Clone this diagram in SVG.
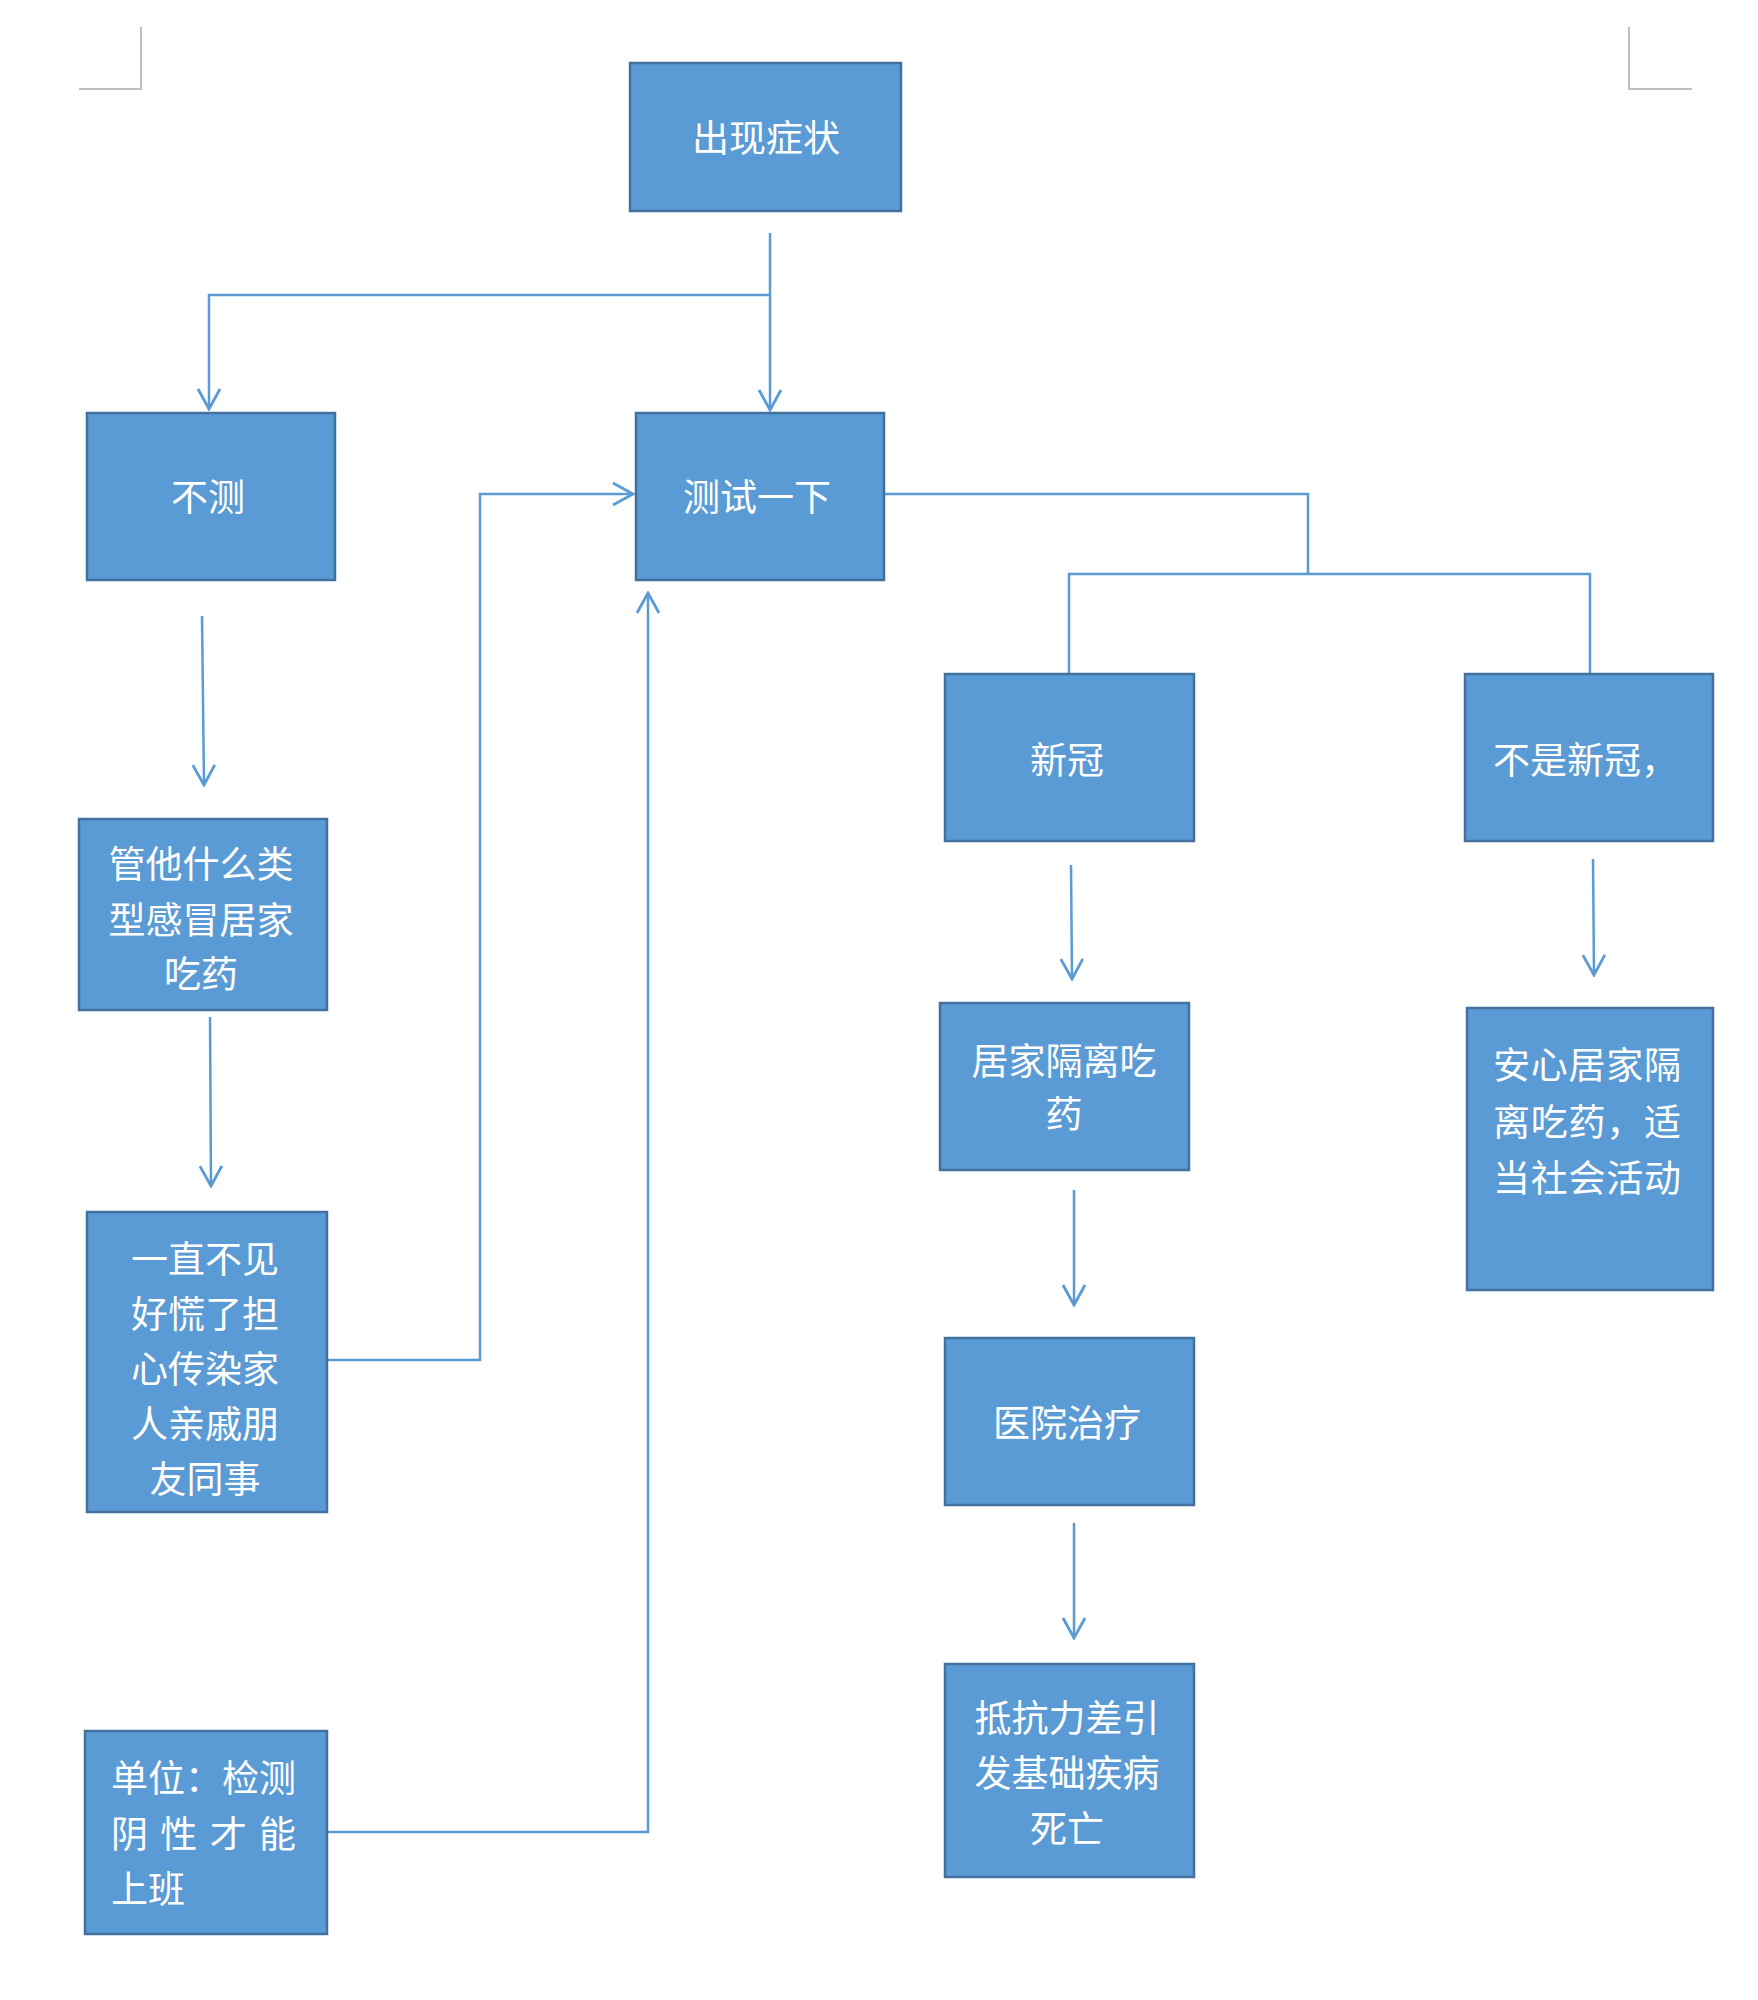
<svg xmlns="http://www.w3.org/2000/svg" width="1758" height="2000" viewBox="0 0 1758 2000">
<defs>
<style>
.node rect{fill:#5B9BD5;stroke:#41719C;stroke-width:2.5}
.node text{fill:#fff;font-family:"Noto Sans CJK SC","Noto Sans",sans-serif;font-size:37px;dominant-baseline:central}
.c{text-anchor:middle}
.conn path{fill:none;stroke:#5B9BD5;stroke-width:2.5}
.mark{fill:none;stroke:#BFBFBF;stroke-width:2}
</style>
<marker id="ah2" viewBox="0 0 26 26" refX="24" refY="13" markerWidth="26" markerHeight="26" markerUnits="userSpaceOnUse" orient="auto">
<path d="M4,2 L24,13 L4,24" fill="none" stroke="#5B9BD5" stroke-width="2.8"/>
</marker>
</defs>
<rect width="1758" height="2000" fill="#fff"/>
<g id="page-marks">
<path class="mark" d="M141,27 V89 H79"/>
<path class="mark" d="M1629,27 V89 H1692"/>
</g>
<g id="connectors" class="conn">
<path d="M770,233 V410" marker-end="url(#ah2)"/>
<path d="M770,295 H209 V409" marker-end="url(#ah2)"/>
<path d="M884,494 H1308 V575"/>
<path d="M1069,674 V574 H1590 V674"/>
<path d="M202,616 L204,785" marker-end="url(#ah2)"/>
<path d="M210,1017 L211,1186" marker-end="url(#ah2)"/>
<path d="M328,1360 H480 V494 H633" marker-end="url(#ah2)"/>
<path d="M328,1832 H648 V593" marker-end="url(#ah2)"/>
<path d="M1071,865 L1072,979" marker-end="url(#ah2)"/>
<path d="M1074,1190 V1305" marker-end="url(#ah2)"/>
<path d="M1074,1523 V1638" marker-end="url(#ah2)"/>
<path d="M1593,859 L1594,975" marker-end="url(#ah2)"/>
</g>
<g id="n-chuxian" class="node">
<rect x="630" y="63" width="271" height="148"/>
<text class="c" x="766" y="136">出现症状</text>
</g>
<g id="n-buce" class="node">
<rect x="87" y="413" width="248" height="167"/>
<text class="c" x="208" y="495">不测</text>
</g>
<g id="n-ceshi" class="node">
<rect x="636" y="413" width="248" height="167"/>
<text class="c" x="757" y="495">测试一下</text>
</g>
<g id="n-xinguan" class="node">
<rect x="945" y="674" width="249" height="167"/>
<text class="c" x="1067" y="758">新冠</text>
</g>
<g id="n-bushi" class="node">
<rect x="1465" y="674" width="248" height="167"/>
<text x="1493" y="758">不是新冠，</text>
</g>
<g id="n-guanta" class="node">
<rect x="79" y="819" width="248" height="191"/>
<text class="c" x="201" y="862">管他什么类</text>
<text class="c" x="201" y="918">型感冒居家</text>
<text class="c" x="201" y="972">吃药</text>
</g>
<g id="n-yizhi" class="node">
<rect x="87" y="1212" width="240" height="300"/>
<text class="c" x="205" y="1257">一直不见</text>
<text class="c" x="205" y="1312">好慌了担</text>
<text class="c" x="205" y="1367">心传染家</text>
<text class="c" x="205" y="1422">人亲戚朋</text>
<text class="c" x="205" y="1477">友同事</text>
</g>
<g id="n-danwei" class="node">
<rect x="85" y="1731" width="242" height="203"/>
<text x="111" y="1776">单位：检测</text>
<text x="111" y="1832" textLength="185" lengthAdjust="spacing">阴性才能</text>
<text x="111" y="1887">上班</text>
</g>
<g id="n-jujia" class="node">
<rect x="940" y="1003" width="249" height="167"/>
<text class="c" x="1064" y="1059">居家隔离吃</text>
<text class="c" x="1064" y="1112">药</text>
</g>
<g id="n-yiyuan" class="node">
<rect x="945" y="1338" width="249" height="167"/>
<text class="c" x="1067" y="1421">医院治疗</text>
</g>
<g id="n-dikang" class="node">
<rect x="945" y="1664" width="249" height="213"/>
<text class="c" x="1067" y="1716">抵抗力差引</text>
<text class="c" x="1067" y="1771">发基础疾病</text>
<text class="c" x="1067" y="1827">死亡</text>
</g>
<g id="n-anxin" class="node">
<rect x="1467" y="1008" width="246" height="282"/>
<text x="1493" y="1063" textLength="188" lengthAdjust="spacing">安心居家隔</text>
<text x="1493" y="1120" textLength="188" lengthAdjust="spacing">离吃药，适</text>
<text x="1493" y="1176" textLength="188" lengthAdjust="spacing">当社会活动</text>
</g>
</svg>
